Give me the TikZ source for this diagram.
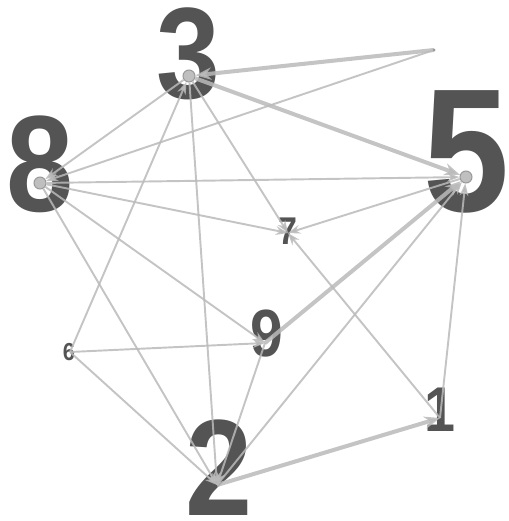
\documentclass[tikz,border=0pt]{standalone}
\usepackage{fontspec}
\setmainfont{Liberation Sans}
\newfontfamily\digfont[FakeStretch=0.88]{Liberation Sans}
\usetikzlibrary{arrows.meta}
\newcommand{\dsz}[1]{\fontsize{#1}{#1}\selectfont}

\begin{document}
\begin{tikzpicture}[x=0.02cm,y=-0.02cm,>={Stealth[length=7pt,width=5pt]},
  lbl/.style={text=black!67,inner sep=0pt},
  vtx/.style={circle,draw=black!40,fill=black!25,line width=.6pt,inner sep=0pt,minimum size=0.24cm},
  e/.style={->,draw=black!27,draw opacity=.85,line width=1.1pt},
  ew/.style={e,line width=2.3pt,>={Stealth[length=9pt,width=7pt]}}]
  \useasboundingbox (0,0) rectangle (508,521);
  % labels
  \node[lbl,font=\digfont\bfseries\dsz{74}](l3) at (188,54){3};
  \node[lbl,font=\digfont\bfseries\dsz{78}](l8) at (40,164){8};
  \node[lbl,font=\digfont\bfseries\dsz{100}](l5) at (466,152){5};
  \node[lbl,font=\digfont\bfseries\dsz{78}](l2) at (219,468){2};
  \node[lbl,font=\digfont\bfseries\dsz{38}](l9) at (267,334){9};
  \node[lbl,font=\digfont\bfseries\dsz{22}](l7) at (288,231){7};
  \node[lbl,font=\digfont\bfseries\dsz{36}](l1) at (440,410){1};
  \node[lbl,font=\digfont\bfseries\dsz{14}](l6) at (69,352){6};
  % vertices
  \node[vtx](v3) at (189,76){};
  \node[vtx](v8) at (40,183){};
  \node[vtx](v5) at (466,177){};
  \coordinate (v7) at (288,233);
  \coordinate (v9) at (265,343);
  \coordinate (v6) at (70,352);
  \coordinate (v2) at (217,485);
  \coordinate (v1) at (440,418);
  \coordinate (p) at (434,50);
  % edges
  \draw[ew](p)--(v3);
  \draw[e](p)--(v8);
  \draw[ew](v3)--(v5);
  \draw[e](v3)--(v8);
  \draw[e](v8)--(v5);
  \draw[e](v8)--(v7);
  \draw[e](v5)--(v7);
  \draw[e](v1)--(v7);
  \draw[e](v8)--(v9);
  \draw[e](v6)--(v9);
  \draw[ew](v9)--(v5);
  \draw[e](v2)--(v5);
  \draw[e](v1)--(v5);
  \draw[ew](v2)--(v1);
  \draw[e](v9)--(v2);
  \draw[e](v3)--(v2);
  \draw[e](v3)--(v7);
  \draw[e](v6)--(v3);
  \draw[e](v6)--(v2);
  \draw[e](v8)--(v2);
  \fill[black!40](p) circle (1.5);
\end{tikzpicture}
\end{document}
